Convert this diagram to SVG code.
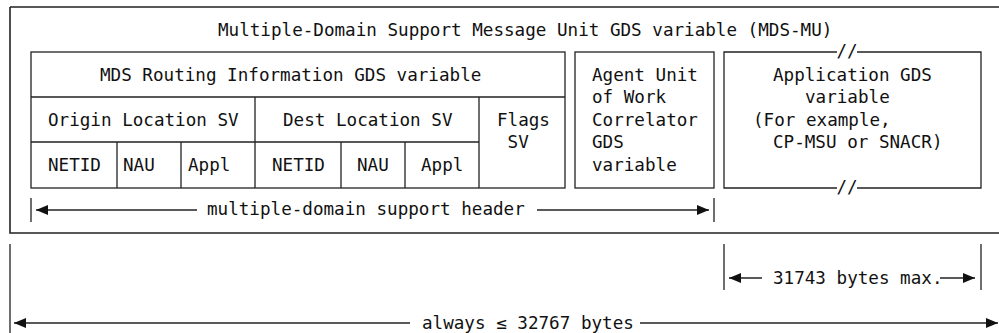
<svg xmlns="http://www.w3.org/2000/svg" width="999" height="333" viewBox="0 0 999 333">
<defs>
<style>
text{font-family:"DejaVu Sans Mono","Liberation Mono",monospace;font-size:17.6px;fill:#111}
.ln{stroke:#222;stroke-width:1.3;fill:none}
.box{stroke:#222;stroke-width:1.3;fill:#fff}
</style>
<marker id="ah" viewBox="0 0 12 10" refX="12" refY="5" markerWidth="12" markerHeight="10" markerUnits="userSpaceOnUse" orient="auto-start-reverse">
<path d="M0,0 L12,5 L0,10 Z" fill="#111"/>
</marker>
</defs>
<rect width="999" height="333" fill="#fff"/>

<g id="mds-mu">
<path class="ln" d="M10,7 H999 M10,7 V233 H999" style="stroke-width:1.6"/>
<text x="218" y="36">Multiple-Domain Support Message Unit GDS variable (MDS-MU)</text>
</g>

<g id="routing">
<rect class="box" x="31" y="52" width="534" height="136"/>
<path class="ln" d="M31,97 H565 M31,142 H479 M255,97 V188 M479,97 V188 M117,142 V188 M181,142 V188 M341,142 V188 M405,142 V188"/>
<text x="100" y="81">MDS Routing Information GDS variable</text>
<text x="48" y="126">Origin Location SV</text>
<text x="283" y="126">Dest Location SV</text>
<text x="497" y="126">Flags</text>
<text x="507.6" y="148">SV</text>
<text x="48" y="171">NETID</text>
<text x="123" y="171">NAU</text>
<text x="188" y="171">Appl</text>
<text x="272" y="171">NETID</text>
<text x="357" y="171">NAU</text>
<text x="421" y="171">Appl</text>
</g>

<g id="agent">
<rect class="box" x="575" y="52" width="139" height="136"/>
<text x="592" y="81">Agent Unit</text>
<text x="592" y="103">of Work</text>
<text x="592" y="126">Correlator</text>
<text x="592" y="148">GDS</text>
<text x="592" y="171">variable</text>
</g>

<g id="application">
<path class="ln" d="M837,52 H724 V188 H837 M857,52 H981 V188 H857"/>
<text x="847" y="57" text-anchor="middle">//</text>
<text x="847" y="193" text-anchor="middle">//</text>
<text x="773" y="81">Application GDS</text>
<text x="805" y="103">variable</text>
<text x="753" y="126">(For example,</text>
<text x="773" y="148">CP-MSU or SNACR)</text>
</g>

<g id="connectors">
<path class="ln" d="M31,198 V222 M714,198 V222"/>
<line class="ln" x1="197" y1="210" x2="36" y2="210" marker-end="url(#ah)"/>
<line class="ln" x1="537" y1="210" x2="709" y2="210" marker-end="url(#ah)"/>
<path class="ln" d="M10,244 V333 M724,244 V290 M981,244 V290"/>
<line class="ln" x1="762" y1="278" x2="729" y2="278" marker-end="url(#ah)"/>
<line class="ln" x1="940" y1="278" x2="975" y2="278" marker-end="url(#ah)"/>
<line class="ln" x1="410" y1="323" x2="14" y2="323" marker-end="url(#ah)"/>
<line class="ln" x1="640" y1="323" x2="998" y2="323" marker-end="url(#ah)"/>
<text x="207" y="215">multiple-domain support header</text>
<text x="773" y="284">31743 bytes max.</text>
<text x="422" y="329">always ≤ 32767 bytes</text>
</g>
</svg>
